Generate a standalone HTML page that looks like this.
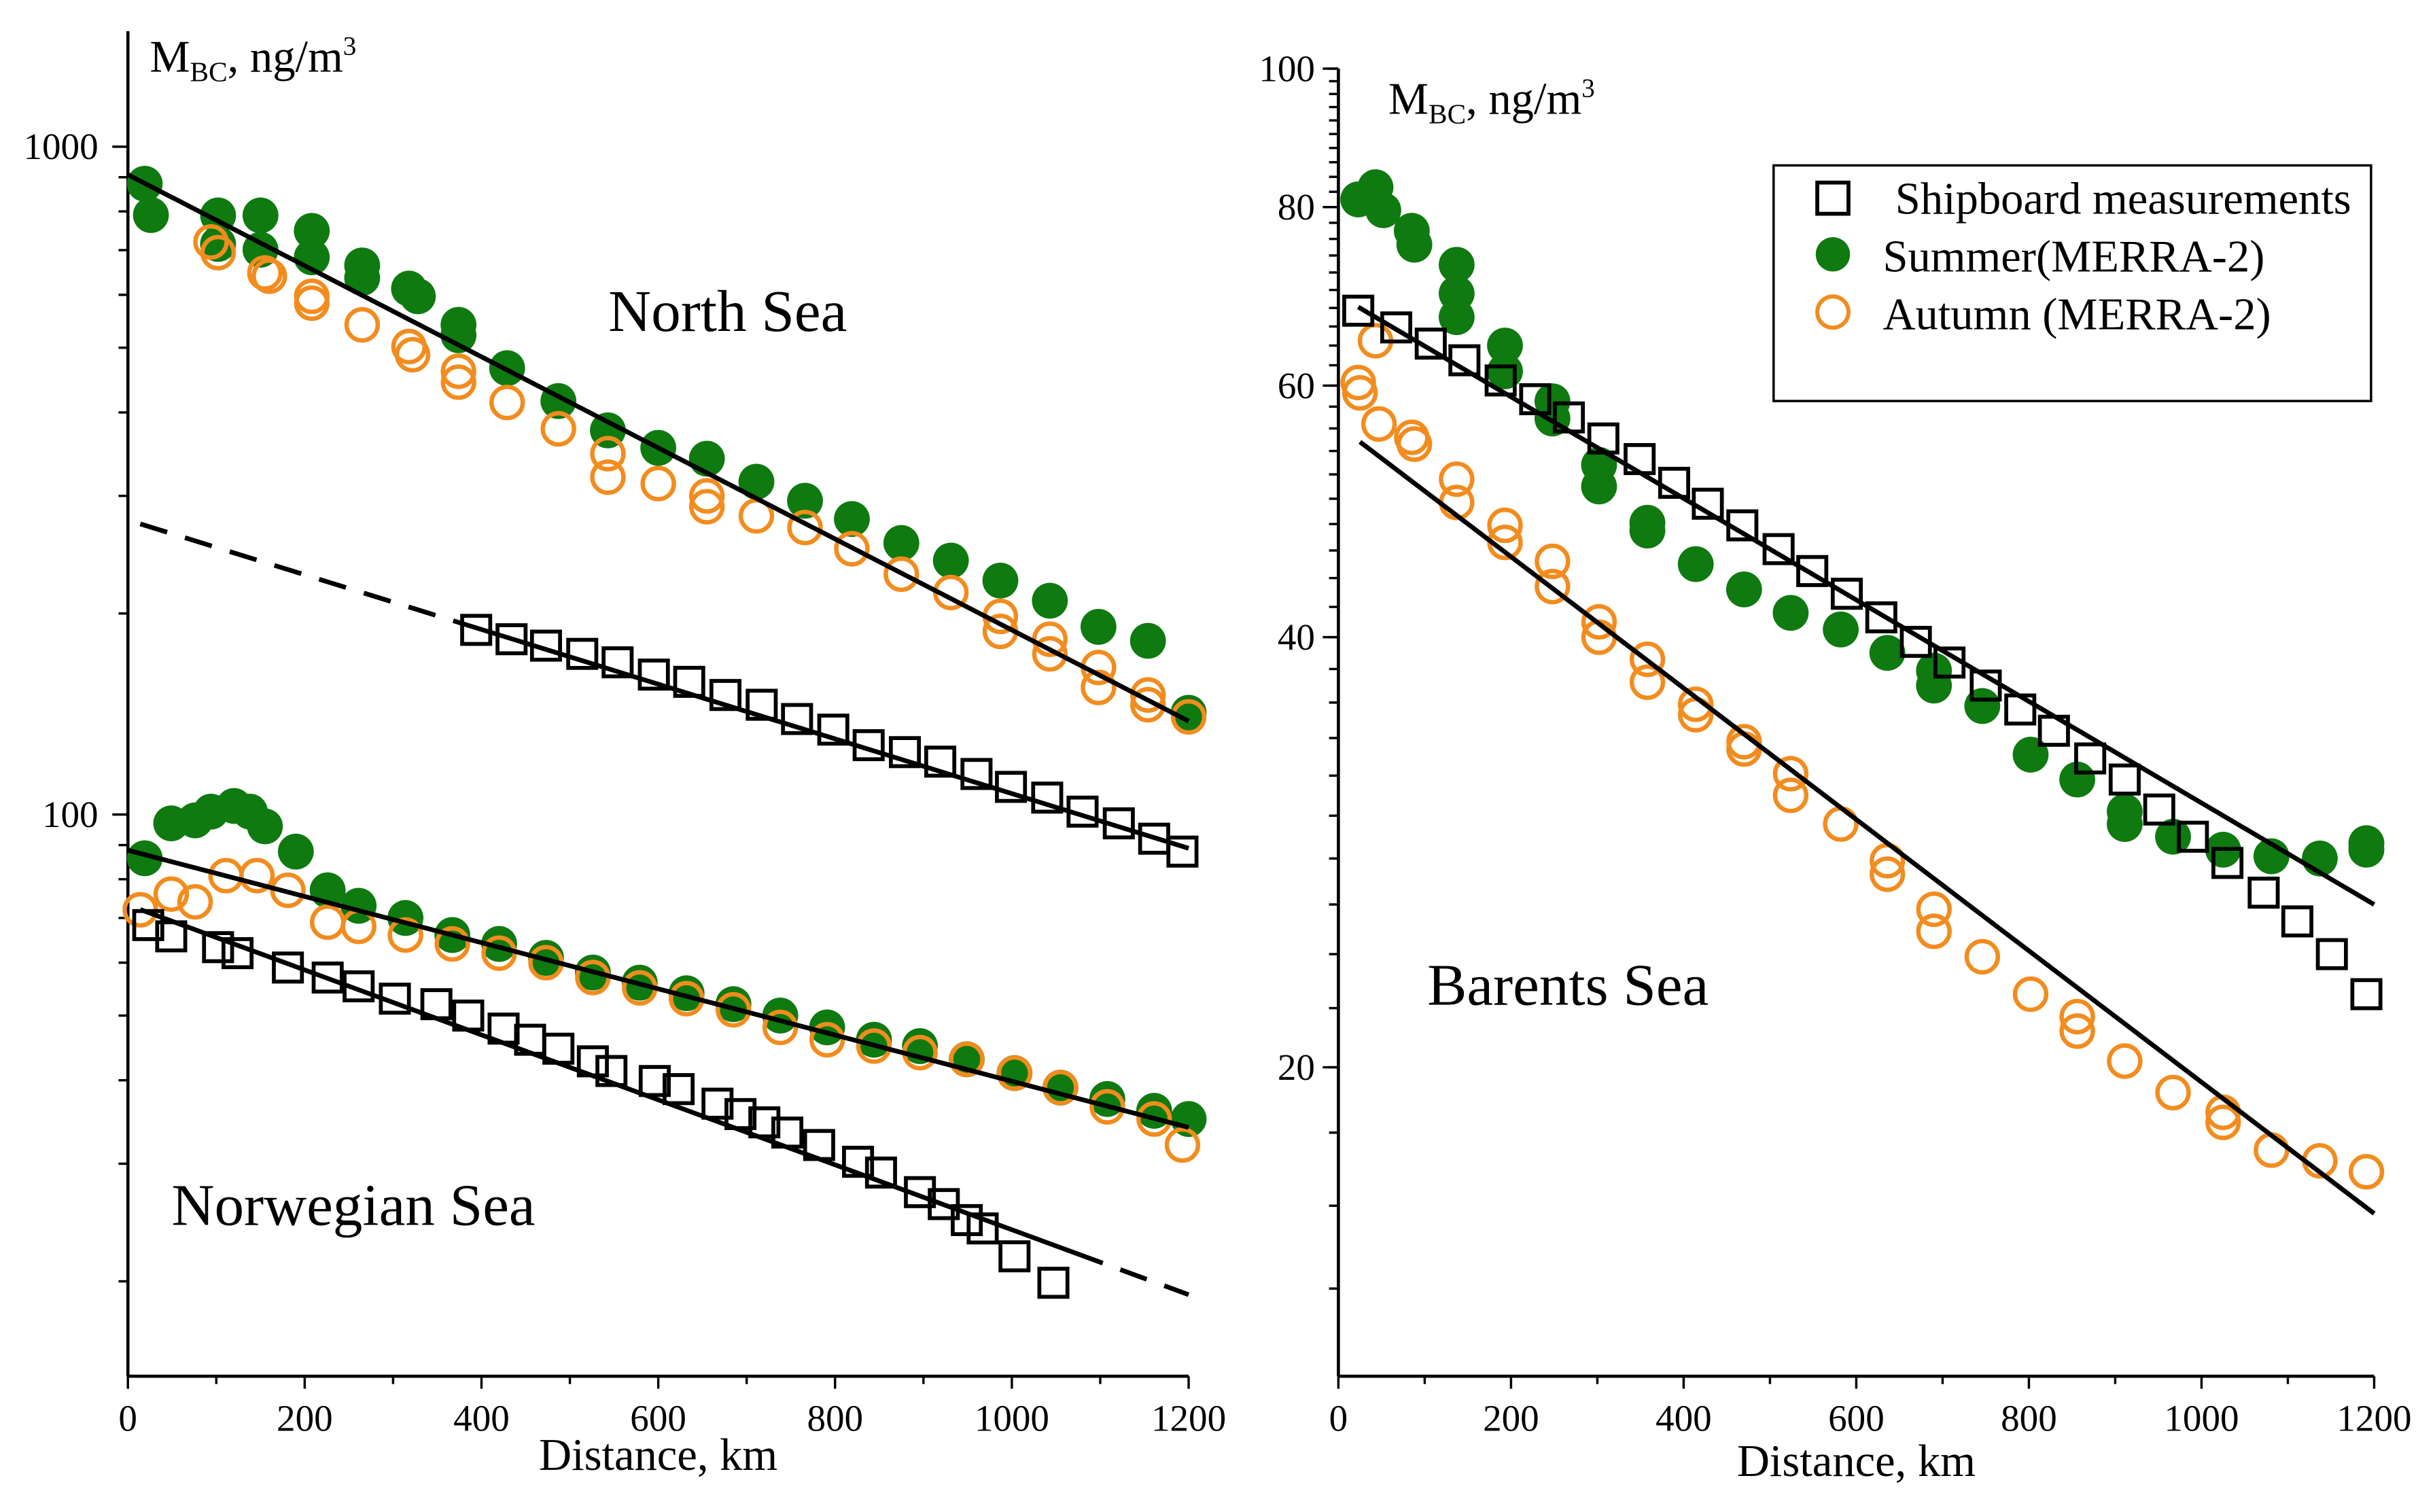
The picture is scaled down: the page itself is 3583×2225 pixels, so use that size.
<!DOCTYPE html>
<html><head><meta charset="utf-8"><style>
html,body{margin:0;padding:0;background:#fff;}
svg{display:block;font-family:"Liberation Serif",serif;}
</style></head><body>
<svg id="chart" width="3583" height="2225" viewBox="0 0 1561 969" preserveAspectRatio="none" xmlns="http://www.w3.org/2000/svg">
<rect x="0" y="0" width="1561" height="969" fill="#fff"/>
<g id="left"></g>
<g id="right"></g>
<g>
<rect x="1137" y="106" width="383" height="151" fill="#fff" stroke="#000" stroke-width="1.5"/>
<rect x="1165" y="117" width="20" height="20" fill="none" stroke="#000" stroke-width="2.5"/>
<text x="1215" y="137" font-size="29">Shipboard measurements</text>
<circle cx="1175" cy="163" r="11" fill="#0e7a10"/>
<text x="1207" y="174" font-size="29">Summer(MERRA-2)</text>
<circle cx="1175" cy="200" r="10" fill="none" stroke="#f28c1e" stroke-width="2.6"/>
<text x="1207" y="211" font-size="29">Autumn (MERRA-2)</text>
</g>
</svg>
<script>
// ---- data (km, ng/m3) ----
const northGreenKm=[19,26,102,102,150,150,208,208,265,265,318,328,374,374,429,487,543,600,655,711,766,819,875,931,987,1043,1098,1154,1200];
const northGreenVal=[880,790,789,715,789,701,748,683,664,636,613,597,541,522,466,416,376,354,341,315,295,277,255,240,224,209,191,182,142];
const northOrangeKm=[94,102,155,160,208,208,265,318,322,374,374,429,487,543,543,600,655,655,711,766,819,875,931,987,987,1043,1043,1098,1098,1154,1154,1200];
const northOrangeVal=[720,694,647,640,597,583,541,502,488,461,444,414,378,347,320,313,300,289,280,269,250,229,215,198,188,183,174,166,155,151,146,140];
const northSqKm=[394,434,473,514,554,595,635,676,717,757,798,838,879,919,960,999,1040,1080,1121,1161,1193];
const northSqVal=[189,183,179,174,169,162,158,151,146,139,134,127,124,120,115,110,106,101,97,92,88];
const norGreenKm=[19,49,76,94,120,138,155,190,226,261,314,367,420,473,526,579,632,685,738,791,844,896,949,1003,1055,1108,1161,1200];
const norGreenVal=[86,97,98,101,103,101,96,88,77,73,70,66,64,61,58,56,54,52,50,48,46,45,43,41,39,37.5,36,35];
const norOrangeKm=[14,49,76,111,146,181,226,261,314,367,420,473,526,579,632,685,738,791,844,896,949,1003,1055,1108,1161,1193];
const norOrangeVal=[72,76,74,81,81,77,69,68,66,64,62,60,57,55,53,51,48,46,45,44,43,41,39,36.5,35,32];
const norSqKm=[23,49,102,124,181,226,261,302,349,385,425,455,487,526,547,596,623,667,693,720,746,782,826,852,896,923,949,967,1003,1047];
const norSqVal=[68.3,65.7,63.3,62,59,57,55.3,53,52,50,47.8,46,44.6,42.7,41.3,39.9,38.8,36.9,35.6,34.6,33.4,32,30.2,29.1,27.2,26.1,24.7,24,21.8,19.9];
const barSqKm=[23,67,107,146,188,228,267,307,349,389,428,468,510,549,589,629,669,708,750,790,829,871,911,951,990,1030,1072,1111,1151,1191];
const barSqVal=[67.7,65.9,64.2,62.5,60.5,58.7,57,55.1,53.3,51.3,49.6,47.9,46.1,44.5,42.9,41.3,39.7,38.4,37,35.6,34.4,32.9,31.8,30.3,29,27.8,26.5,25.3,24,22.5];
const barGreenKm=[23,43,52,85,88,137,137,137,193,193,248,248,302,302,358,358,414,470,524,582,636,690,690,746,802,856,911,911,967,1025,1081,1137,1191,1191];
const barGreenVal=[81,82.6,79.6,77,75.3,72.9,69.6,67,64,61.4,58.5,56.9,52.8,51,48.1,47.5,45,43.2,41.6,40.5,39,37.9,37,35.8,33.1,31.8,30.2,29.6,29,28.4,28.1,28,28.4,28.7];
const barOrangeKm=[23,25,43,47,85,88,137,137,193,193,248,248,302,302,358,358,414,414,470,470,524,524,582,636,636,690,690,746,802,856,856,911,967,1025,1025,1081,1137,1191];
const barOrangeVal=[60.3,59.3,64.5,56.4,55.2,54.6,51.6,49.7,47.9,46.6,45.2,43.4,41,40,38.6,37.2,35.9,35.3,33.8,33.4,32.1,31,29.6,27.9,27.3,25.8,24.9,23.9,22.5,21.7,21.2,20.2,19.2,18.6,18.3,17.5,17.2,16.9];
// fit lines: [km0, val0, km1, val1]
const fitNorth=[0,908,1200,138];
const fitNorthSq=[0,276,1200,89];
const fitNor=[0,88.4,1200,34];
const fitNorSq=[0,73.2,1200,19.1];
const fitBarSq=[23,68.1,1200,26];
const fitBarOr=[25,54.8,1200,15.8];
const xTicks=[0,200,400,600,800,1000,1200];
const leftYTicks=[100,1000];
const rightYTicks=[20,40,60,80,100];

const NS="http://www.w3.org/2000/svg";
function mk(parent,tag,attrs){const e=document.createElementNS(NS,tag);for(const k in attrs)e.setAttribute(k,attrs[k]);parent.appendChild(e);return e;}
const L=document.getElementById('left'), R=document.getElementById('right');
const lx=k=>82+k*680/1200, ly=v=>522-(Math.log10(v)-2)*428;
const rx=k=>858+k*664/1200, ry=v=>44-(Math.log10(v)-2)*915.6;
const GREEN="#0e7a10", ORANGE="#f28c1e";

function axes(g,x0,x1,ytop,fx,titleY){
  let a=mk(g,'line',{x1:x0,y1:882,x2:x1,y2:882,stroke:'#000','stroke-width':2});
  
  
  let b=mk(g,'line',{x1:x0,y1:882,x2:x0,y2:ytop,stroke:'#000','stroke-width':2});
  
  
  xTicks.forEach(k=>{mk(g,'line',{x1:fx(k),y1:882,x2:fx(k),y2:890,stroke:'#000','stroke-width':1.5});
    const t=mk(g,'text',{x:fx(k),y:917,'font-size':24,'text-anchor':'middle'});t.textContent=k;
    
    
    if(k<1200) mk(g,'line',{x1:fx(k+100),y1:882,x2:fx(k+100),y2:887,stroke:'#000','stroke-width':1.5});});
  const t=mk(g,'text',{x:(x0+x1)/2,y:titleY,'font-size':29,'text-anchor':'middle'});t.textContent='Distance, km';
  
  
}
axes(L,82,762,20,lx,942);
axes(R,858,1522,44,rx,946);
[20,30,40,50,60,70,80,90,200,300,400,500,600,700,800,900].forEach(v=>mk(L,'line',{x1:76,y1:ly(v),x2:82,y2:ly(v),stroke:'#000','stroke-width':1.5}));
leftYTicks.forEach(v=>{mk(L,'line',{x1:72,y1:ly(v),x2:82,y2:ly(v),stroke:'#000','stroke-width':1.5});
  const t=mk(L,'text',{x:63,y:ly(v)+8,'font-size':24,'text-anchor':'end'});t.textContent=v;
  
  });
for(let v=14;v<=100;v+=2) mk(R,'line',{x1:852,y1:ry(v),x2:858,y2:ry(v),stroke:'#000','stroke-width':1.5});
rightYTicks.forEach(v=>{mk(R,'line',{x1:848,y1:ry(v),x2:858,y2:ry(v),stroke:'#000','stroke-width':1.5});
  const t=mk(R,'text',{x:843,y:ry(v)+8,'font-size':24,'text-anchor':'end'});t.textContent=v;
  
  });
function ytitle(g,x,y){const t=mk(g,'text',{x:x,y:y,'font-size':29});
  t.innerHTML='M<tspan font-size="18" dy="6">BC</tspan><tspan dy="-6">, ng/m</tspan><tspan font-size="17" dy="-11">3</tspan>';
  
  }
ytitle(L,96,46); ytitle(R,890,73);
function label(g,x,y,s,n){const t=mk(g,'text',{x:x,y:y,'font-size':38});t.textContent=s;
  
  }
label(L,390,212,'North Sea','north-sea-label');
label(L,110,785,'Norwegian Sea','norwegian-sea-label');
label(R,915,644,'Barents Sea','barents-sea-label');

function pts(g,fx,fy,ks,vs,type,name){
  ks.forEach((k,i)=>{let e;
    if(type==='g') e=mk(g,'circle',{cx:fx(k),cy:fy(vs[i]),r:11.5,fill:GREEN});
    else if(type==='o') e=mk(g,'circle',{cx:fx(k),cy:fy(vs[i]),r:10,fill:'none',stroke:ORANGE,'stroke-width':2.8});
    else e=mk(g,'rect',{x:fx(k)-9,y:fy(vs[i])-9,width:18,height:18,fill:'none',stroke:'#000','stroke-width':2.5});
    
    });
}
function fit(g,fx,fy,f,k0,k1,dash,name){
  const v=k=>f[1]*Math.pow(f[3]/f[1],(k-f[0])/(f[2]-f[0]));
  const e=mk(g,'line',{x1:fx(k0),y1:fy(v(k0)),x2:fx(k1),y2:fy(v(k1)),stroke:'#000','stroke-width':3});
  if(dash) e.setAttribute('stroke-dasharray','18,12');
  
  
}
pts(L,lx,ly,northGreenKm,northGreenVal,'g','north-summer-point');
pts(L,lx,ly,northOrangeKm,northOrangeVal,'o','north-autumn-point');
pts(L,lx,ly,norGreenKm,norGreenVal,'g','norwegian-summer-point');
pts(L,lx,ly,norOrangeKm,norOrangeVal,'o','norwegian-autumn-point');
pts(L,lx,ly,northSqKm,northSqVal,'s','north-ship-point');
pts(L,lx,ly,norSqKm,norSqVal,'s','norwegian-ship-point');
fit(L,lx,ly,fitNorth,0,1200,false,'north-model-fit');
fit(L,lx,ly,fitNorthSq,14,370,true,'north-ship-fit-dashed');
fit(L,lx,ly,fitNorthSq,370,1200,false,'north-ship-fit');
fit(L,lx,ly,fitNor,0,1200,false,'norwegian-model-fit');
fit(L,lx,ly,fitNorSq,14,1073,false,'norwegian-ship-fit');
fit(L,lx,ly,fitNorSq,1073,1200,true,'norwegian-ship-fit-dashed');
pts(R,rx,ry,barGreenKm,barGreenVal,'g','barents-summer-point');
pts(R,rx,ry,barOrangeKm,barOrangeVal,'o','barents-autumn-point');
pts(R,rx,ry,barSqKm,barSqVal,'s','barents-ship-point');
fit(R,rx,ry,fitBarSq,23,1200,false,'barents-ship-fit');
fit(R,rx,ry,fitBarOr,25,1200,false,'barents-autumn-fit');
</script>
</body></html>
